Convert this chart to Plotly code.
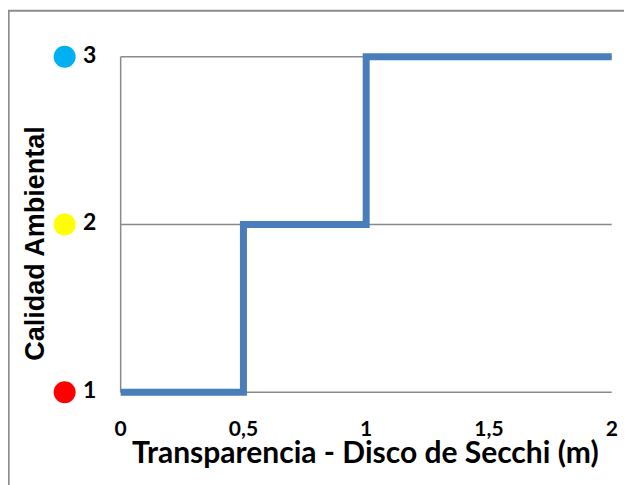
import plotly.graph_objects as go

# Data
transparencia = [0, 0.5, 1, 2]          # Disco de Secchi (m) breakpoints
calidad = [1, 2, 3, 3]                  # Calidad ambiental level
niveles = [1, 2, 3]
nivel_colores = ["#FF0000", "#FFFF00", "#00B0F0"]
x_tickvals = [0, 0.5, 1, 1.5, 2]
x_ticktext = ["0", "0,5", "1", "1,5", "2"]
y_ticktext = ["1", "2", "3"]

W, H = 632, 485
OFF = 8  # page body margin
XR = [-0.3, 2.05]
YR = [0.9, 3.1]
px_x = 245.5
px_y = 167.5
x0px = 121 - OFF
x2px = 612 - OFF
y3px = 57 - OFF
y1px = 392 - OFF
l = x0px - (0 - XR[0]) * px_x
r = W - (x2px + (XR[1] - 2) * px_x)
t = y3px - (YR[1] - 3) * px_y
b = H - (y1px + (1 - YR[0]) * px_y)
pw = W - l - r
ph = H - t - b

def px_to_x(px):
    return (px - OFF - x0px) / px_x + 0

grid = dict(color="#898989", width=1.5)
shapes = []
for lv in niveles:
    shapes.append(dict(type="line", xref="x", yref="y", x0=0, x1=2, y0=lv, y1=lv, line=grid, layer="below"))
shapes.append(dict(type="line", xref="x", yref="y", x0=0, x1=0, y0=1, y1=3, line=grid, layer="below"))
# outer border
shapes.append(dict(type="rect", xref="paper", yref="paper",
                   x0=(1 - l) / pw, x1=(W + 20 - l) / pw,
                   y0=(-20 - b) / ph, y1=(H - 3 - b) / ph,
                   line=dict(color="#8C8C8C", width=2), fillcolor="rgba(0,0,0,0)"))

fig = go.Figure()

fig.add_trace(go.Scatter(
    x=transparencia, y=calidad, mode="lines", line_shape="hv",
    line=dict(color="#4A7EBB", width=7), hoverinfo="skip", showlegend=False))

# coloured level dots
fig.add_trace(go.Scatter(
    x=[px_to_x(65)] * len(niveles), y=niveles, mode="markers",
    marker=dict(color=nivel_colores, size=22, line=dict(width=0)),
    cliponaxis=False, showlegend=False, hoverinfo="skip"))

# y level labels
fig.add_trace(go.Scatter(
    x=[px_to_x(90)] * len(niveles), y=niveles, mode="text",
    text=[f"<b>{s}</b>" for s in y_ticktext], textposition="middle center",
    textfont=dict(family="Lato", size=23, color="black"),
    cliponaxis=False, showlegend=False, hoverinfo="skip"))

fig.update_layout(
    width=W, height=H,
    margin=dict(l=l, r=r, t=t, b=b, autoexpand=False),
    paper_bgcolor="white", plot_bgcolor="white",
    shapes=shapes,
    xaxis=dict(range=XR, showgrid=False, zeroline=False, showline=False,
               tickvals=x_tickvals, ticktext=[f"<b>{s}</b>" for s in x_ticktext], ticks="",
               ticklabelstandoff=5,
               tickfont=dict(family="Lato", size=21, color="black")),
    yaxis=dict(range=YR, showgrid=False, zeroline=False, showline=False,
               showticklabels=False, ticks=""),
    annotations=[
        dict(text="<b>Transparencia - Disco de Secchi (m)</b>", xref="paper", yref="paper",
             x=(366 - OFF - l) / pw, y=(H - (451 - OFF) - b) / ph, showarrow=False,
             xanchor="center", yanchor="middle",
             font=dict(family="Lato", size=30, color="black")),
        dict(text="<b>Calidad Ambiental</b>", xref="paper", yref="paper",
             x=(35 - OFF - l) / pw, y=(H - (243 - OFF) - b) / ph, showarrow=False, textangle=-90,
             xanchor="center", yanchor="middle",
             font=dict(family="Liberation Sans", size=27, color="black")),
    ],
)

fig.write_html("out.html")
